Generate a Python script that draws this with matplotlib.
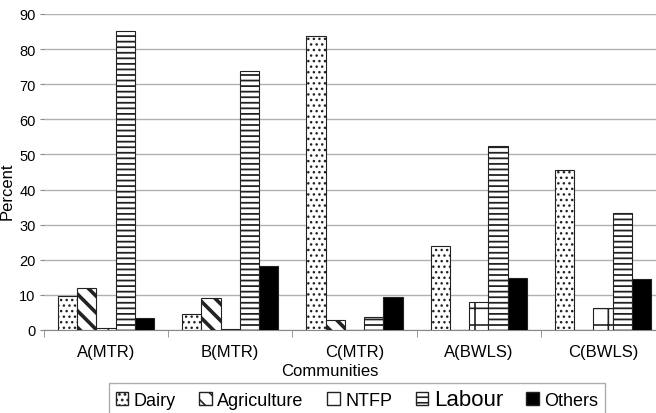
import numpy as np
import matplotlib
matplotlib.use("Agg")
import matplotlib.pyplot as plt
from matplotlib.patches import Patch

# === Data ===
communities = ["A(MTR)", "B(MTR)", "C(MTR)", "A(BWLS)", "C(BWLS)"]
dairy = [9.8, 4.5, 83.8, 23.8, 45.6]
agriculture = [12.0, 9.1, 2.8, 0.0, 0.0]
ntfp = [0.7, 0.4, 0.0, 7.9, 6.3]
labour = [85.1, 73.9, 3.6, 52.5, 33.2]
others = [3.4, 18.3, 9.5, 14.9, 14.5]

series = [("Dairy", dairy, "white", "...", 1.0),
          ("Agriculture", agriculture, "white", "\\\\", 2.6),
          ("NTFP", ntfp, "white", "+", 1.2),
          ("Labour", labour, "white", "---", 1.3),
          ("Others", others, "black", None, 1.0)]

plt.rcParams["font.family"] = ["Liberation Sans", "DejaVu Sans"]
plt.rcParams["hatch.linewidth"] = 1.2

fig = plt.figure(figsize=(6.56, 4.14), dpi=100)
ax = fig.add_axes([44 / 656, 83 / 414, 621 / 656, 316 / 414])

x = np.arange(len(communities))
w = 0.155
for i, (name, vals, col, hatch, hlw) in enumerate(series):
    bars = ax.bar(x + (i - 2) * w, vals, width=w, color=col, hatch=hatch,
                  edgecolor="#222222", linewidth=0.8, zorder=3)
    for b in bars:
        if hasattr(b, "set_hatch_linewidth"):
            b.set_hatch_linewidth(hlw)

ax.set_xlim(-0.5, 4.5)
ax.set_ylim(0, 90)
ax.set_yticks(range(0, 91, 10))
ax.yaxis.grid(True, color="#b0b0b0", linewidth=1.0, zorder=0)
ax.set_xticks(x)
ax.set_xticklabels(communities, fontsize=12)
ax.set_xticks(np.arange(-0.5, 5, 1), minor=True)
ax.tick_params(axis="x", which="major", length=0, pad=10)
ax.tick_params(axis="x", which="minor", length=5, color="#888888")
ax.tick_params(axis="y", labelsize=10.5, length=3, color="#888888", pad=3)
for s in ["top", "right", "left"]:
    ax.spines[s].set_visible(False)
ax.spines["bottom"].set_color("#888888")

fig.text(7 / 656, 1 - 191 / 414, "Percent", rotation=90, fontsize=12,
         ha="center", va="center")
fig.text(330 / 656, 1 - 372 / 414, "Communities", fontsize=12,
         ha="center", va="center")

handles = [Patch(facecolor=c, edgecolor="#222222", hatch=h, label=n)
           for n, _, c, h, _ in series]
leg = fig.legend(handles=handles, loc="lower center", ncol=5,
                 bbox_to_anchor=(357 / 656, -0.03), frameon=True,
                 fancybox=False, edgecolor="#999999", fontsize=13,
                 handlelength=0.7, handleheight=0.7, handletextpad=0.3,
                 columnspacing=1.3, borderpad=0.35)
leg.get_frame().set_linewidth(1.0)
leg.get_texts()[3].set_fontsize(16)

fig.savefig("out.png", dpi=100)
